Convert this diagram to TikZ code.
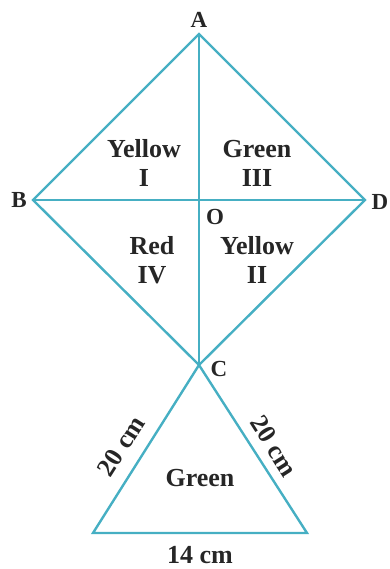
\documentclass[tikz,border=0pt]{standalone}
\usepackage{fontspec}
\setmainfont{Liberation Serif}
\begin{document}
\begin{tikzpicture}[x=1pt,y=-1pt,
  kline/.style={draw={rgb,255:red,70;green,175;blue,195}, line width=2.4pt, line join=miter},
  lbl/.style={font=\fontsize{26}{29}\selectfont\bfseries, text=black!85, inner sep=0pt, align=center},
  nm/.style={font=\fontsize{23}{25}\selectfont\bfseries, text=black!85, inner sep=0pt}]
\useasboundingbox (0,0) rectangle (390,569);
\coordinate (A) at (199,34);
\coordinate (B) at (33,200);
\coordinate (D) at (365,200);
\coordinate (O) at (199,200);
\coordinate (C) at (199,365);
\coordinate (L) at (93,533);
\coordinate (R) at (307,533);
\draw[kline] (A) -- (B) -- (C) -- (D) -- cycle;
\draw[kline] (A) -- (C);
\draw[kline] (B) -- (D);
\draw[kline] (C) -- (L) -- (R) -- cycle;
\node[nm] (la) at (199,20) {A};
\node[nm] (lb) at (19,200) {B};
\node[nm] (ld) at (380,202) {D};
\node[nm] (lo) at (215,217) {O};
\node[nm] (lc) at (219,369) {C};
\node[lbl] (t1) at (144,163) {Yellow\\I};
\node[lbl] (t3) at (257,163) {Green\\III};
\node[lbl] (t4) at (152,260) {Red\\IV};
\node[lbl] (t2) at (257,260) {Yellow\\II};
\node[lbl] (tg) at (200,478) {Green};
\node[lbl] (tb) at (200,555) {14 cm};
\node[lbl, rotate=57.7] (tl) at (121,446) {20 cm};
\node[lbl, rotate=-57.7] (tr) at (274,446) {20 cm};
\end{tikzpicture}
\end{document}
